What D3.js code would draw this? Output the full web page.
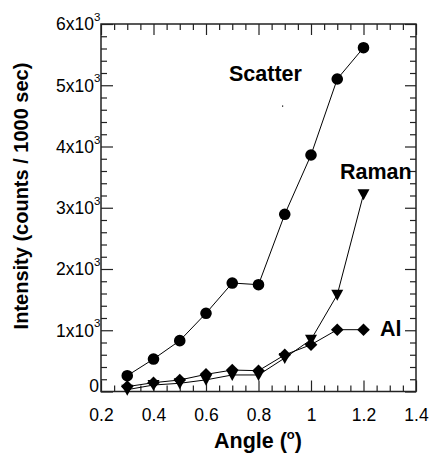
<!DOCTYPE html>
<html>
<head>
<meta charset="utf-8">
<script src="https://cdn.jsdelivr.net/npm/d3@7"></script>
<style>
body { margin: 0; background: #fff; }
svg { display: block; font-family: "Liberation Sans", Arial, sans-serif; }
</style>
</head>
<body>
<svg id="viz"></svg>
<script>
var width = 432;
var height = 456;

// values
var angles = [0.3, 0.4, 0.5, 0.6, 0.7, 0.8, 0.9, 1.0, 1.1, 1.2];
var scatter = [258, 530, 830, 1277, 1771, 1744, 2893, 3861, 5102, 5613];
var raman = [30, 106, 134, 190, 270, 270, 547, 846, 1580, 3220];
var al = [80, 144, 188, 280, 350, 340, 598, 764, 1009, 1009];

var xTicks = [0.2, 0.4, 0.6, 0.8, 1, 1.2, 1.4];
var xLabels = ["0.2", "0.4", "0.6", "0.8", "1", "1.2", "1.4"];
var yTicks = [0, 1000, 2000, 3000, 4000, 5000, 6000];
var yLabels = ["0", "1x10", "2x10", "3x10", "4x10", "5x10", "6x10"];

var svg = d3.select("#viz")
	.attr("width", width)
	.attr("height", height)

// plot frame (window.top is read-only, so own names here)
var pLeft = 101, pRight = 416, pTop = 24, pBottom = 391.5;

var x = d3.scaleLinear().domain([0.2, 1.4]).range([pLeft, pRight]);
var y = d3.scaleLinear().domain([0, 6000]).range([pBottom, pTop]);

var xMinor = d3.range(0.25, 1.4, 0.05).filter(v => Math.abs(v*5 - Math.round(v*5)) > 1e-6);
var yMinor = d3.range(200, 6000, 200).filter(v => v % 1000 != 0);

function styleAxis(g){
	g.select(".domain").remove();
	g.selectAll(".tick line").attr("stroke", "#222").attr("stroke-width", 1.2);
}

// minor ticks, all four sides, pointing inward
svg.append("g").attr("transform", "translate(0," + pBottom + ")")
	.call(d3.axisBottom(x).tickValues(xMinor).tickSize(-6).tickFormat(""))
	.call(styleAxis);
svg.append("g").attr("transform", "translate(0," + pTop + ")")
	.call(d3.axisTop(x).tickValues(xMinor).tickSize(-6).tickFormat(""))
	.call(styleAxis);
svg.append("g").attr("transform", "translate(" + pLeft + ",0)")
	.call(d3.axisLeft(y).tickValues(yMinor).tickSize(-6).tickFormat(""))
	.call(styleAxis);
svg.append("g").attr("transform", "translate(" + pRight + ",0)")
	.call(d3.axisRight(y).tickValues(yMinor).tickSize(-6).tickFormat(""))
	.call(styleAxis);

// major ticks
var xAxis = svg.append("g").attr("transform", "translate(0," + pBottom + ")")
	.call(d3.axisBottom(x).tickValues(xTicks).tickSize(-11).tickPadding(17)
		.tickFormat((d, i) => xLabels[i]))
	.call(styleAxis);
xAxis.selectAll("text").attr("font-size", 17.5).attr("fill", "#000");
xAxis.attr("font-family", null);

svg.append("g").attr("transform", "translate(0," + pTop + ")")
	.call(d3.axisTop(x).tickValues(xTicks).tickSize(-11).tickFormat(""))
	.call(styleAxis);

svg.append("g").attr("transform", "translate(" + pLeft + ",0)")
	.call(d3.axisLeft(y).tickValues(yTicks).tickSize(-12).tickFormat(""))
	.call(styleAxis);

svg.append("g").attr("transform", "translate(" + pRight + ",0)")
	.call(d3.axisRight(y).tickValues(yTicks).tickSize(-11).tickFormat(""))
	.call(styleAxis);

// y labels with superscript exponent
yTicks.forEach((v, i) => {
	svg.append("text")
		.attr("x", v == 0 ? 99 : 94)
		.attr("y", y(v) + (v == 0 ? -6 : 0))
		.attr("dy", "0.36em")
		.attr("text-anchor", "end")
		.attr("font-size", 17.5)
		.text(yLabels[i]);
	if (v != 0) {
		svg.append("text")
			.attr("x", 94)
			.attr("y", y(v) - 3)
			.attr("font-size", 11.5)
			.text("3");
	}
});

// frame
svg.append("rect")
	.attr("x", pLeft).attr("y", pTop)
	.attr("width", pRight - pLeft).attr("height", pBottom - pTop)
	.attr("fill", "none").attr("stroke", "#222").attr("stroke-width", 1.5);

var line = d3.line().x((d, i) => x(angles[i])).y(d => y(d));

[scatter, raman, al].forEach(s => {
	svg.append("path")
		.attr("d", line(s))
		.attr("fill", "none")
		.attr("stroke", "#000")
		.attr("stroke-width", 1);
});

var symCircle = d3.symbol().type(d3.symbolCircle).size(Math.PI * 5.8 * 5.8);

svg.selectAll(".scatter-pt")
	.data(scatter)
	.join("path")
	.attr("class", "scatter-pt")
	.attr("transform", (d, i) => "translate(" + x(angles[i]) + "," + y(d) + ")")
	.attr("d", symCircle)
	.attr("fill", "#000");

svg.selectAll(".raman-pt")
	.data(raman)
	.join("path")
	.attr("class", "raman-pt")
	.attr("transform", (d, i) => "translate(" + x(angles[i]) + "," + y(d) + ")")
	.attr("d", "M-6,-5L6,-5L0,6Z")
	.attr("fill", "#000");

svg.selectAll(".al-pt")
	.data(al)
	.join("path")
	.attr("class", "al-pt")
	.attr("transform", (d, i) => "translate(" + x(angles[i]) + "," + y(d) + ")")
	.attr("d", "M0,-6.3L6.3,0L0,6.3L-6.3,0Z")
	.attr("fill", "#000");

// series labels
svg.append("text").attr("x", 229).attr("y", 81).attr("font-size", 21.5)
	.attr("font-weight", "bold").text("Scatter");
svg.append("text").attr("x", 340).attr("y", 178.5).attr("font-size", 21.5)
	.attr("font-weight", "bold").text("Raman");
svg.append("text").attr("x", 380).attr("y", 335.5).attr("font-size", 21.5)
	.attr("font-weight", "bold").text("Al");

// stray dot in the original
svg.append("rect").attr("x", 282).attr("y", 105.5).attr("width", 1.2).attr("height", 1.2).attr("fill", "#000");

// axis titles
var xt = svg.append("text")
	.attr("x", 258).attr("y", 448)
	.attr("text-anchor", "middle")
	.attr("font-size", 21.5)
	.attr("font-weight", "bold");
xt.append("tspan").text("Angle (");
xt.append("tspan").attr("font-size", 13).attr("dy", -9).text("o");
xt.append("tspan").attr("dy", 9).text(")");

svg.append("text")
	.attr("transform", "translate(27.5,196) rotate(-90)")
	.attr("text-anchor", "middle")
	.attr("font-size", 20)
	.attr("font-weight", "bold")
	.text("Intensity (counts / 1000 sec)");
</script>
</body>
</html>
